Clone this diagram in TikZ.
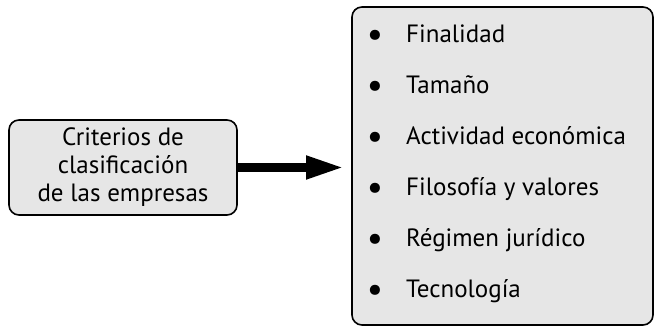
\documentclass[tikz,border=0pt]{standalone}
\usepackage{fontspec}
\setmainfont{PT Sans}
\usetikzlibrary{arrows.meta}
\definecolor{boxgray}{RGB}{230,230,230}
\begin{document}
\begin{tikzpicture}[x=1pt,y=1pt,
  box/.style={draw=black, line width=1.6pt, fill=boxgray, rounded corners=10pt, inner sep=0pt},
  txt/.style={font=\fontsize{25}{28}\selectfont},
  itemtext/.style={txt, anchor=base west, inner sep=0pt},
  bulletmark/.style={anchor=base, inner sep=0pt, font=\fontsize{36}{36}\selectfont},
  bigarrow/.style={line width=8.5pt, -{Triangle[length=38pt,width=21.6pt]}}]
\useasboundingbox (0,0) rectangle (657,328);
\node[box, txt, minimum width=228pt, minimum height=95pt, align=center] (lb) at (123,160.5)
  {\raisebox{-2pt}{\parbox{220pt}{\centering Criterios de\\clasificación\\de las empresas}}};
\node[box, minimum width=301pt, minimum height=318pt] (rb) at (502.5,162) {};
\foreach \t [count=\i] in {Finalidad, Tamaño, Actividad económica, Filosofía y valores, Régimen jurídico, Tecnología}{
  \node[bulletmark] (b\i) at (375, {285-51*(\i-1)-4}) {•};
  \node[itemtext] (it\i) at (406, {285-51*(\i-1)}) {\t};
}
\coordinate (tip) at (344,160.5);
\draw[bigarrow] (lb.east) -- (tip);
\end{tikzpicture}
\end{document}
